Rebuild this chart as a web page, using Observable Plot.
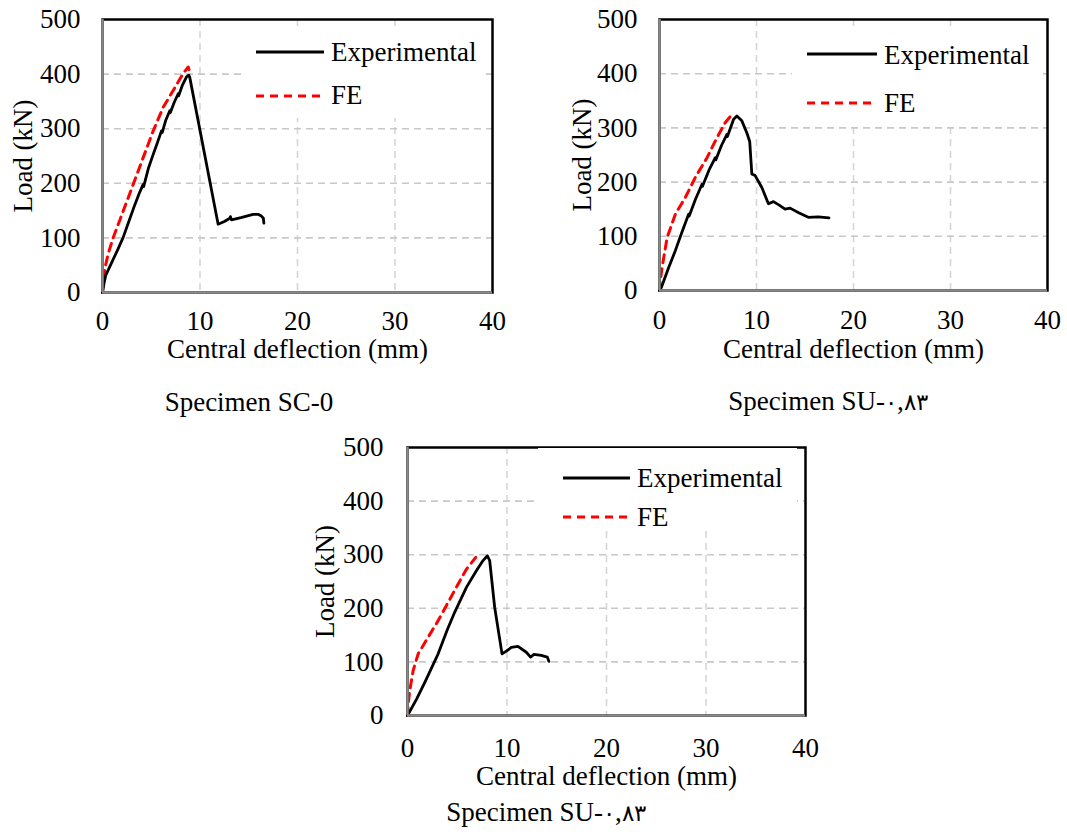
<!DOCTYPE html>
<html>
<head>
<meta charset="utf-8">
<script src="https://cdn.jsdelivr.net/npm/d3@7"></script>
<script src="https://cdn.jsdelivr.net/npm/@observablehq/plot@0.6"></script>
<style>
  html, body { margin: 0; padding: 0; background: #fff; }
  #page { position: relative; width: 1067px; height: 834px; overflow: hidden; background: #fff;
          font-family: "Liberation Serif", "Times New Roman", serif; color: #000; }
  .panel { position: absolute; }
  .legend { position: absolute; background: #fff; }
  .legend svg { overflow: visible; }
  .caption { position: absolute; font-size: 27px; line-height: 1; white-space: nowrap; direction: ltr;
             font-family: "Liberation Serif", "Times New Roman", serif; }
  .caption .fa { font-family: "DejaVu Sans", sans-serif; font-weight: 200; font-size: 23px; }
</style>
</head>
<body>
<div id="page"></div>
<script>
// ---------- data ----------
const xTicks = [0, 10, 20, 30, 40];
const yTicks = [0, 100, 200, 300, 400, 500];
const xGrid = [10, 20, 30];
const yGrid = [100, 200, 300, 400];
const seriesNames = ["Experimental", "FE"];
const xLabel = "Central deflection (mm)";
const yLabel = "Load (kN)";
const captions = ["Specimen SC-0", "Specimen SU-\u06F0,\u06F8\u06F3", "Specimen SU-\u06F0,\u06F8\u06F3"];

// Specimen SC-0
const sc0ExpDefl = [0, 0.15, 0.34, 1.0, 1.6, 2.12, 2.7, 3.3, 3.8, 4.17, 4.22, 4.7, 5.2, 5.6, 6.05, 6.12, 6.5, 6.9, 6.95, 7.35, 7.76, 7.8, 8.2, 8.62, 8.85, 8.95, 11.86, 12.5, 13.06, 13.12, 13.23, 14.2, 15.45, 16.0, 16.3, 16.5, 16.55];
const sc0ExpLoad = [0, 16, 32, 57, 80, 101, 130, 160, 183, 198, 194, 227, 253, 273, 296, 293, 316, 333, 329, 348, 364, 360, 380, 395, 398, 394, 125, 130, 136, 139, 133, 137, 143, 143, 140, 136, 127];
const sc0FeDefl = [0, 0.08, 0.24, 0.6, 1.09, 2.12, 3.15, 4.17, 5.2, 6.22, 7.25, 8.27, 8.79, 8.89];
const sc0FeLoad = [0, 22, 44, 72, 100, 149, 198, 247, 296, 339, 370, 401, 413, 407];

// Specimen SU-0,83 (top right)
const su1ExpDefl = [0, 0.2, 0.9, 1.64, 2.3, 3.01, 3.05, 3.7, 4.38, 4.42, 5.1, 5.75, 5.8, 6.4, 6.95, 7.0, 7.64, 7.98, 8.49, 9.0, 9.3, 9.52, 9.86, 10.55, 11.23, 11.75, 12.3, 12.95, 13.46, 14.4, 15.34, 16.37, 17.47];
const su1ExpLoad = [0, 6, 40, 74, 107, 141, 137, 168, 196, 192, 222, 245, 241, 268, 288, 284, 316, 322, 313, 291, 275, 215, 212, 190, 160, 164, 158, 150, 152, 143, 135, 136, 134];
const su1FeDefl = [0, 0.1, 0.27, 0.79, 1.64, 2.67, 3.7, 4.9, 5.92, 6.78, 7.53];
const su1FeLoad = [0, 20, 43, 98, 141, 172, 209, 245, 282, 310, 326];

// Specimen SU-0,83 (bottom)
const su2ExpDefl = [0, 0.9, 1.74, 3.08, 4.0, 4.75, 5.92, 6.92, 7.59, 8.03, 8.26, 8.76, 9.5, 9.93, 10.43, 11.1, 11.94, 12.37, 12.71, 13.44, 14.05, 14.21];
const su2ExpLoad = [0, 30, 62, 115, 160, 193, 239, 270, 289, 298, 289, 202, 115, 120, 127, 129, 118, 109, 114, 112, 109, 101];
const su2FeDefl = [0, 0.07, 0.23, 0.57, 1.07, 2.07, 3.08, 4.08, 5.08, 5.92, 6.86];
const su2FeLoad = [0, 22, 47, 84, 115, 146, 177, 211, 245, 273, 295];

// ---------- layout ----------
const FONT = '"Liberation Serif", "Times New Roman", serif';
const FS = 27;
const panels = [
  { left: 0,   top: 0,   frameW: 390, frameH: 273, xPad: 18, yPad: 22, xLabDy: 65, yLabDx: -71,
    exp: [sc0ExpDefl, sc0ExpLoad], fe: [sc0FeDefl, sc0FeLoad],
    legend: { x: 245, y: 26, w: 238, h: 92, line: [11, 79], text: 86, rows: [26, 70], base: [35, 78] },
    caption: { text: captions[0], cx: 249, base: 413 } },
  { left: 557, top: 0,   frameW: 388, frameH: 271, xPad: 19, yPad: 22, xLabDy: 67, yLabDx: -69,
    exp: [su1ExpDefl, su1ExpLoad], fe: [su1FeDefl, su1FeLoad],
    legend: { x: 792, y: 27, w: 248, h: 99, line: [15, 85], text: 92, rows: [27, 76], base: [37, 85] },
    caption: { text: captions[1], cx: 828, base: 412 } },
  { left: 305, top: 428, frameW: 398, frameH: 268, xPad: 22, yPad: 24, xLabDy: 69, yLabDx: -74,
    exp: [su2ExpDefl, su2ExpLoad], fe: [su2FeDefl, su2FeLoad],
    legend: { x: 538, y: 448, w: 259, h: 82, line: [25, 92], text: 99, rows: [30, 69], base: [39, 78] },
    caption: { text: captions[2], cx: 546, base: 823 } }
];

const page = document.getElementById("page");

function toRows(pair) { return pair[0].map((x, i) => ({ x, y: pair[1][i] })); }

function fillCaption(el, text) {
  // wrap Persian digits in a span so they get a font that has them
  const parts = text.split(/([\u06F0-\u06F9]+)/);
  parts.forEach(part => {
    if (!part) return;
    if (/^[\u06F0-\u06F9]+$/.test(part)) {
      const s = document.createElement("span");
      s.className = "fa";
      s.textContent = part;
      el.appendChild(s);
    } else {
      el.appendChild(document.createTextNode(part));
    }
  });
}

panels.forEach(p => {
  const mL = 102, mR = 8, mT = 19, mB = 80;
  const chart = Plot.plot({
    width: mL + p.frameW + mR,
    height: mT + p.frameH + mB,
    marginLeft: mL, marginRight: mR, marginTop: mT, marginBottom: mB,
    x: { domain: [0, 40] },
    y: { domain: [0, 500] },
    style: { fontFamily: FONT, fontSize: FS + "px", color: "#000", background: "transparent", overflow: "visible" },
    marks: [
      Plot.gridX(xGrid, { stroke: "#d6d6d6", strokeOpacity: 1, strokeWidth: 1.6, strokeDasharray: "7,5" }),
      Plot.gridY(yGrid, { stroke: "#c8c8c8", strokeOpacity: 1, strokeWidth: 1.6, strokeDasharray: "7,5" }),
      Plot.axisX(xTicks, { tickSize: 0, tickPadding: p.xPad, fontSize: FS, label: null }),
      Plot.axisY(yTicks, { tickSize: 0, tickPadding: p.yPad, fontSize: FS, label: null }),
      Plot.line(toRows(p.fe), { x: "x", y: "y", stroke: "#ff0000", strokeWidth: 3, strokeDasharray: "8,6" }),
      Plot.line(toRows(p.exp), { x: "x", y: "y", stroke: "#000", strokeWidth: 2.8, strokeLinejoin: "round" }),
      Plot.frame({ stroke: "#000", strokeWidth: 2.5 }),
      Plot.ruleX([0], { stroke: "#8a8a8a", strokeWidth: 2.5 }),
      Plot.ruleY([0], { stroke: "#8a8a8a", strokeWidth: 2.5 }),
      Plot.text([xLabel], { text: d => d, frameAnchor: "bottom", dy: p.xLabDy, textAnchor: "middle", lineAnchor: "bottom", fontSize: FS }),
      Plot.text([yLabel], { text: d => d, frameAnchor: "left", rotate: -90, dx: p.yLabDx, textAnchor: "middle", lineAnchor: "bottom", fontSize: FS })
    ]
  });
  const wrap = document.createElement("div");
  wrap.className = "panel";
  wrap.style.left = p.left + "px";
  wrap.style.top = p.top + "px";
  wrap.appendChild(chart);
  page.appendChild(wrap);

  // legend
  const L = p.legend;
  const lg = document.createElement("div");
  lg.className = "legend";
  lg.style.left = L.x + "px"; lg.style.top = L.y + "px";
  lg.style.width = L.w + "px"; lg.style.height = L.h + "px";
  lg.innerHTML = `<svg width="${L.w}" height="${L.h + 8}" style="font-family:${FONT.replace(/"/g, "'")};font-size:${FS}px">
    <line x1="${L.line[0]}" x2="${L.line[1]}" y1="${L.rows[0]}" y2="${L.rows[0]}" stroke="#000" stroke-width="3"/>
    <text x="${L.text}" y="${L.base[0]}" fill="#000">${seriesNames[0]}</text>
    <line x1="${L.line[0]}" x2="${L.line[1]}" y1="${L.rows[1]}" y2="${L.rows[1]}" stroke="#ff0000" stroke-width="3" stroke-dasharray="8,6"/>
    <text x="${L.text}" y="${L.base[1]}" fill="#000">${seriesNames[1]}</text>
  </svg>`;
  page.appendChild(lg);

  // caption
  const c = document.createElement("div");
  c.className = "caption";
  fillCaption(c, p.caption.text);
  page.appendChild(c);
  const w = c.getBoundingClientRect().width;
  c.style.left = (p.caption.cx - w / 2) + "px";
  c.style.top = (p.caption.base - 24) + "px";
});
</script>
</body>
</html>
